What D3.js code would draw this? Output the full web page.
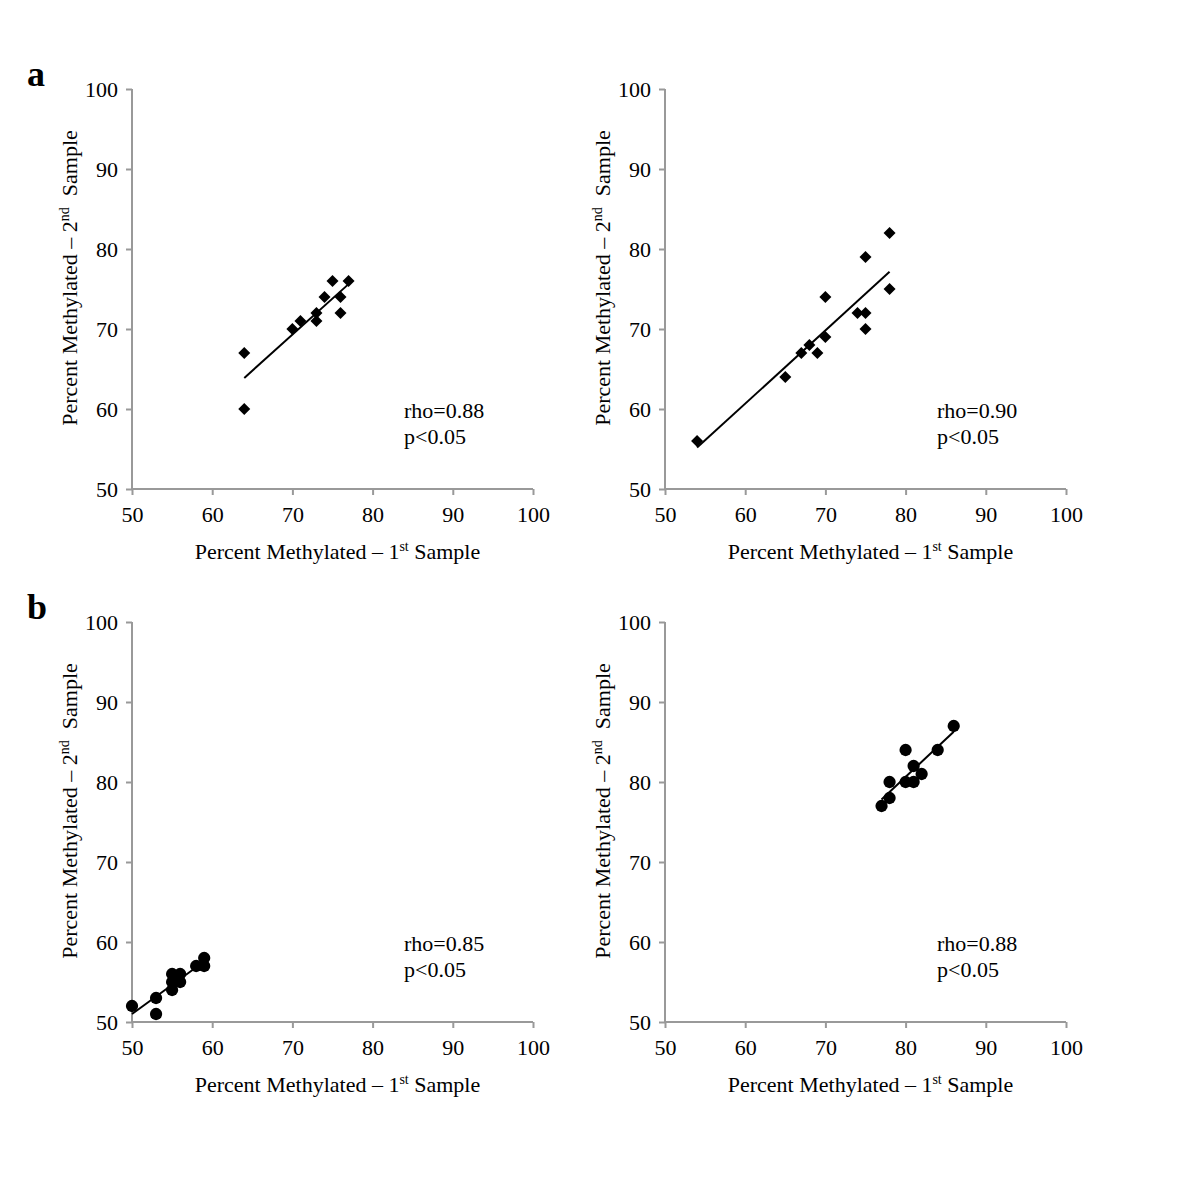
<!DOCTYPE html>
<html><head><meta charset="utf-8">
<script src="https://cdn.jsdelivr.net/npm/d3@7"></script>
<style>body{margin:0;background:#fff}svg{display:block}text{font-family:"Liberation Serif","Times New Roman",serif;fill:#000}</style>
</head><body><svg id="c" width="1200" height="1200"></svg>
<script>
// Data
const aLeftX = [64,64,70,71,73,73,74,75,76,76,77];
const aLeftY = [67,60,70,71,72,71,74,76,74,72,76];
const aRightX = [54,65,67,68,69,70,70,74,75,75,75,78,78];
const aRightY = [56,64,67,68,67,69,74,72,72,70,79,82,75];
const bLeftX = [50,53,53,55,55,55,56,56,58,59,59];
const bLeftY = [52,53,51,54,55,56,56,55,57,57,58];
const bRightX = [77,78,78,80,81,81,82,80,84,86];
const bRightY = [77,78,80,80,80,82,81,84,84,87];
const rhoLabels = ["rho=0.88","rho=0.90","rho=0.85","rho=0.88"];
const pLabel = "p<0.05";
const ticks = [50,60,70,80,90,100];
const panelLetters = ["a","b"];

const svg = d3.select("#c");
const panels = [
  {xs:aLeftX, ys:aLeftY, left:132, top:89, marker:"diamond", rho:rhoLabels[0]},
  {xs:aRightX, ys:aRightY, left:665, top:89, marker:"diamond", rho:rhoLabels[1]},
  {xs:bLeftX, ys:bLeftY, left:132, top:622, marker:"circle", rho:rhoLabels[2]},
  {xs:bRightX, ys:bRightY, left:665, top:622, marker:"circle", rho:rhoLabels[3]}
];
const W = 401, H = 400, axisColor = "#999", fs = "22px";

panels.forEach(p => {
  const g = svg.append("g").attr("transform", `translate(${p.left},${p.top})`);
  const x = d3.scaleLinear().domain([50,100]).range([0,W]);
  const y = d3.scaleLinear().domain([50,100]).range([H,0]);
  const xa = g.append("g").attr("transform",`translate(0,${H})`)
    .call(d3.axisBottom(x).tickValues(ticks).tickSize(6).tickSizeOuter(6).tickPadding(11));
  const ya = g.append("g").call(d3.axisLeft(y).tickValues(ticks).tickSize(6).tickSizeOuter(6).tickPadding(8));
  [xa,ya].forEach(a=>{
    a.select(".domain").attr("stroke",axisColor).attr("stroke-width",2);
    a.selectAll(".tick line").attr("stroke",axisColor).attr("stroke-width",2);
    a.selectAll(".tick text").style("font-family",'"Liberation Serif",serif').style("font-size",fs).attr("fill","#000");
  });
  xa.select(".domain").attr("d",`M0,0H${W}`);
  ya.select(".domain").attr("d",`M0,0V${H}`);
  // regression line
  const n = p.xs.length, mx = d3.mean(p.xs), my = d3.mean(p.ys);
  let sxy=0, sxx=0;
  for(let i=0;i<n;i++){sxy+=(p.xs[i]-mx)*(p.ys[i]-my); sxx+=(p.xs[i]-mx)**2;}
  const b = sxy/sxx, a0 = my - b*mx;
  const x0 = d3.min(p.xs), x1 = d3.max(p.xs);
  g.append("line").attr("x1",x(x0)).attr("y1",y(a0+b*x0)).attr("x2",x(x1)).attr("y2",y(a0+b*x1))
    .attr("stroke","#000").attr("stroke-width",2);
  // markers
  const sym = p.marker==="diamond" ? d3.symbol().type(d3.symbolSquare).size(72) : d3.symbol().type(d3.symbolCircle).size(118);
  g.selectAll("path.pt").data(p.xs.map((v,i)=>[v,p.ys[i]])).join("path").attr("class","pt")
    .attr("d",sym)
    .attr("transform",d=>`translate(${x(d[0])},${y(d[1])})` + (p.marker==="diamond"?" rotate(45)":""))
    .attr("fill","#000");
  // annotations
  g.append("text").attr("x",272).attr("y",329).style("font-size",fs).text(p.rho);
  g.append("text").attr("x",272).attr("y",355).style("font-size",fs).text(pLabel);
  // axis titles
  const xt = g.append("text").attr("x",W/2+5).attr("y",H+70).attr("text-anchor","middle").style("font-size",fs);
  xt.append("tspan").text("Percent Methylated \u2013 1");
  xt.append("tspan").attr("dy",-8).style("font-size","14px").text("st");
  xt.append("tspan").attr("dy",8).text(" Sample");
  const yt = g.append("text").attr("transform",`translate(-55,${H/2-11}) rotate(-90)`).attr("text-anchor","middle").style("font-size",fs);
  yt.append("tspan").text("Percent Methylated \u2013 2");
  yt.append("tspan").attr("dy",-8).style("font-size","14px").text("nd");
  yt.append("tspan").attr("dy",8).text("\u00a0 Sample");
});

svg.append("text").attr("x",27).attr("y",86).style("font-size","36px").style("font-weight","bold").text(panelLetters[0]);
svg.append("text").attr("x",27).attr("y",619).style("font-size","36px").style("font-weight","bold").text(panelLetters[1]);
</script></body></html>
